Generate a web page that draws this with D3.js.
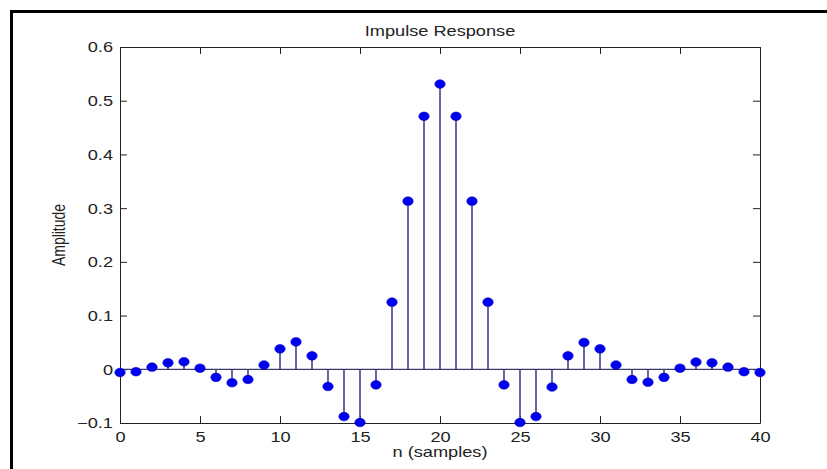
<!DOCTYPE html>
<html>
<head>
<meta charset="utf-8">
<script src="https://cdn.jsdelivr.net/npm/d3@7"></script>
<style>
  body { margin: 0; background: #fff; }
  text { font-family: "Liberation Sans", Arial, sans-serif; fill: #222; }
</style>
</head>
<body>
<div id="chart"></div>
<script>
// data
const samples = d3.range(0, 41)
const amplitude = [
  -0.006, -0.0045, 0.004, 0.012, 0.014, 0.002, -0.015, -0.025, -0.019, 0.008,
  0.038, 0.051, 0.025, -0.032, -0.088, -0.099, -0.029, 0.125, 0.313, 0.471,
  0.531,
  0.471, 0.313, 0.125, -0.029, -0.099, -0.088, -0.033, 0.025, 0.05, 0.038,
  0.008, -0.019, -0.024, -0.015, 0.002, 0.0135, 0.012, 0.004, -0.0045, -0.006
]
const xTicks = [0, 5, 10, 15, 20, 25, 30, 35, 40]
const yTicks = [-0.1, 0, 0.1, 0.2, 0.3, 0.4, 0.5, 0.6]

const width = 827
const height = 469
const margin = { top: 47, left: 120, right: 67, bottom: 46 }
const stretch = 1.3 // the picture is wider than tall text would be

const svg = d3
  .select('#chart')
  .append('svg')
  .attr('width', width)
  .attr('height', height)

// outer frame (only left and top edges show)
svg
  .append('path')
  .attr('d', `M11.5,${height} V11.5 H${width}`)
  .attr('fill', 'none')
  .attr('stroke', '#000')
  .attr('stroke-width', 3)

const x = d3
  .scaleLinear()
  .domain([0, 40])
  .range([margin.left, width - margin.right])

const y = d3
  .scaleLinear()
  .domain([-0.1, 0.6])
  .range([height - margin.bottom, margin.top])

const styleAxis = g => {
  g.select('.domain').attr('stroke', '#222')
  g.selectAll('.tick line').attr('stroke', '#222')
  g.selectAll('text').attr('font-size', 14).attr('fill', '#222')
}

// bottom axis
svg
  .append('g')
  .attr('transform', `translate(0,${y(-0.1)})`)
  .call(
    d3.axisBottom(x).tickValues(xTicks).tickSizeInner(-7).tickSizeOuter(0).tickPadding(0).tickFormat(d3.format('d'))
  )
  .call(styleAxis)
  .call(g =>
    g.selectAll('text')
      .attr('y', 0)
      .attr('dy', 0)
      .attr('transform', `translate(0,19) scale(${stretch},1)`)
  )

// top axis (ticks only)
svg
  .append('g')
  .attr('transform', `translate(0,${y(0.6)})`)
  .call(d3.axisTop(x).tickValues(xTicks).tickSizeInner(-7).tickSizeOuter(0).tickFormat(''))
  .call(styleAxis)

// left axis
svg
  .append('g')
  .attr('transform', `translate(${x(0)},0)`)
  .call(
    d3.axisLeft(y).tickValues(yTicks).tickSizeInner(-7).tickSizeOuter(0).tickFormat(d => (Math.abs(d) < 1e-9 ? '0' : d3.format('.1f')(d)))
  )
  .call(styleAxis)
  .call(g =>
    g.selectAll('text')
      .attr('x', 0)
      .attr('dy', '0.35em')
      .attr('transform', `translate(-7,0) scale(${stretch},1)`)
  )

// right axis (ticks only)
svg
  .append('g')
  .attr('transform', `translate(${x(40)},0)`)
  .call(d3.axisRight(y).tickValues(yTicks).tickSizeInner(-7).tickSizeOuter(0).tickFormat(''))
  .call(styleAxis)

// titles
svg
  .append('text')
  .attr('transform', `translate(${(x(0) + x(40)) / 2},36) scale(${stretch},1)`)
  .attr('text-anchor', 'middle')
  .attr('font-size', 14)
  .text('Impulse Response')

svg
  .append('text')
  .attr('transform', `translate(${(x(0) + x(40)) / 2},457) scale(${stretch},1)`)
  .attr('text-anchor', 'middle')
  .attr('font-size', 14)
  .text('n (samples)')

svg
  .append('text')
  .attr('transform', `translate(65,${(y(-0.1) + y(0.6)) / 2}) scale(${stretch},1) rotate(-90)`)
  .attr('text-anchor', 'middle')
  .attr('font-size', 14)
  .text('Amplitude')

// stem baseline
svg
  .append('line')
  .attr('x1', x(0))
  .attr('x2', x(40))
  .attr('y1', y(0))
  .attr('y2', y(0))
  .attr('stroke', '#3a3a6a')
  .attr('stroke-width', 1.3)

// stems
svg
  .selectAll('.stem')
  .data(samples)
  .enter()
  .append('line')
  .attr('class', 'stem')
  .attr('x1', d => x(d))
  .attr('x2', d => x(d))
  .attr('y1', y(0))
  .attr('y2', d => y(amplitude[d]))
  .attr('stroke', '#40408c')
  .attr('stroke-width', 1.6)

// markers
svg
  .selectAll('.dot')
  .data(samples)
  .enter()
  .append('ellipse')
  .attr('class', 'dot')
  .attr('cx', d => x(d))
  .attr('cy', d => y(amplitude[d]))
  .attr('rx', 5.2)
  .attr('ry', 4.3)
  .attr('fill', '#0000f0')
  .attr('stroke', '#0000c0')
  .attr('stroke-width', 0.6)
</script>
</body>
</html>
